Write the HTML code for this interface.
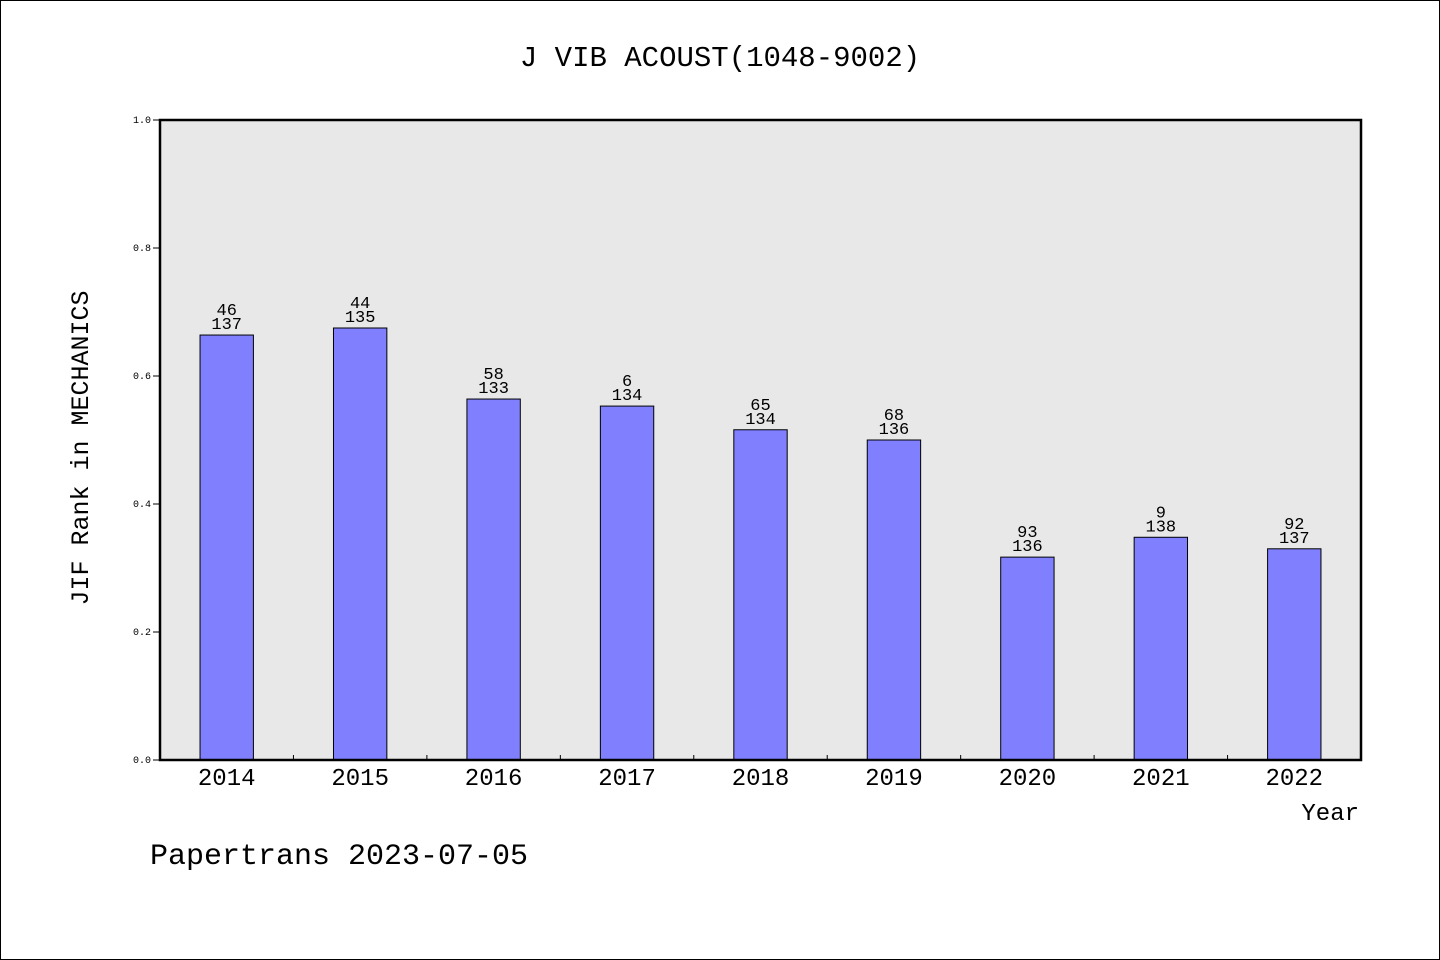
<!DOCTYPE html>
<html><head><meta charset="utf-8"><style>
html,body{margin:0;padding:0;background:#fff}
svg{display:block}
text{font-family:"Liberation Mono","WenQuanYi Zen Hei",monospace;fill:#000}
</style></head><body>
<svg width="1440" height="960" viewBox="0 0 1440 960" xmlns="http://www.w3.org/2000/svg">
<rect x="0.5" y="0.5" width="1439" height="959" fill="#fff" stroke="#000"/>
<text x="720" y="66" text-anchor="middle" font-size="29">J VIB ACOUST(1048-9002)</text>
<rect x="160" y="120" width="1201" height="640" fill="#e8e8e8"/>
<g id="bars"></g>
<g id="axes"></g>
<rect x="160" y="120" width="1201" height="640" fill="none" stroke="#000" stroke-width="2.5"/>
<text x="88" y="448" text-anchor="middle" font-size="25" transform="rotate(-90 88 448)">JIF Rank in MECHANICS</text>
<text x="1359" y="820" text-anchor="end" font-size="24">Year</text>
<text x="150" y="864" font-size="30">Papertrans 2023-07-05</text>
</svg>
<script>
const years=["2014","2015","2016","2017","2018","2019","2020","2021","2022"];
const values=[0.664,0.675,0.564,0.553,0.516,0.500,0.317,0.348,0.330];
const ranks=["46","44","58","6","65","68","93","9","92"];
const totals=["137","135","133","134","134","136","136","138","137"];
const yTicks=[0,0.2,0.4,0.6,0.8,1.0];
const yTickLabels=["0.0","0.2","0.4","0.6","0.8","1.0"];
const NS="http://www.w3.org/2000/svg";
const X0=160,X1=1361,Y0=760,Y1=120;
const step=(X1-X0)/years.length;
const xC=i=>X0+step*(i+0.5);
const yS=v=>Y0-(Y0-Y1)*v;
function mk(t,a,p){const e=document.createElementNS(NS,t);for(const k in a)e.setAttribute(k,a[k]);p.appendChild(e);return e;}
const bars=document.getElementById('bars'),axes=document.getElementById('axes');
const bw=step*0.4;
years.forEach((y,i)=>{
 const r=mk('rect',{x:xC(i)-bw/2,y:yS(values[i]),width:bw,height:Y0-yS(values[i]),fill:'#8080ff',stroke:'#000','stroke-width':1},bars);
 
 
 const t1=mk('text',{x:xC(i),y:yS(values[i])-20,'text-anchor':'middle','font-size':17},bars);t1.textContent=ranks[i];
 
 
 const t2=mk('text',{x:xC(i),y:yS(values[i])-6,'text-anchor':'middle','font-size':17},bars);t2.textContent=totals[i];
 
 
 const xt=mk('text',{x:xC(i),y:785,'text-anchor':'middle','font-size':24},axes);xt.textContent=y;
 
 
 if(i>0){const tk=mk('line',{x1:X0+step*i,x2:X0+step*i,y1:Y0,y2:Y0-5,stroke:'#000'},axes);
 
 }
});
yTicks.forEach((v,i)=>{
 const l=mk('line',{x1:X0-7,x2:X0,y1:yS(v),y2:yS(v),stroke:'#000'},axes);
 
 
 const t=mk('text',{x:X0-9,y:yS(v)+3,'text-anchor':'end','font-size':10},axes);t.textContent=yTickLabels[i];
 
 
});
</script>
</body></html>
